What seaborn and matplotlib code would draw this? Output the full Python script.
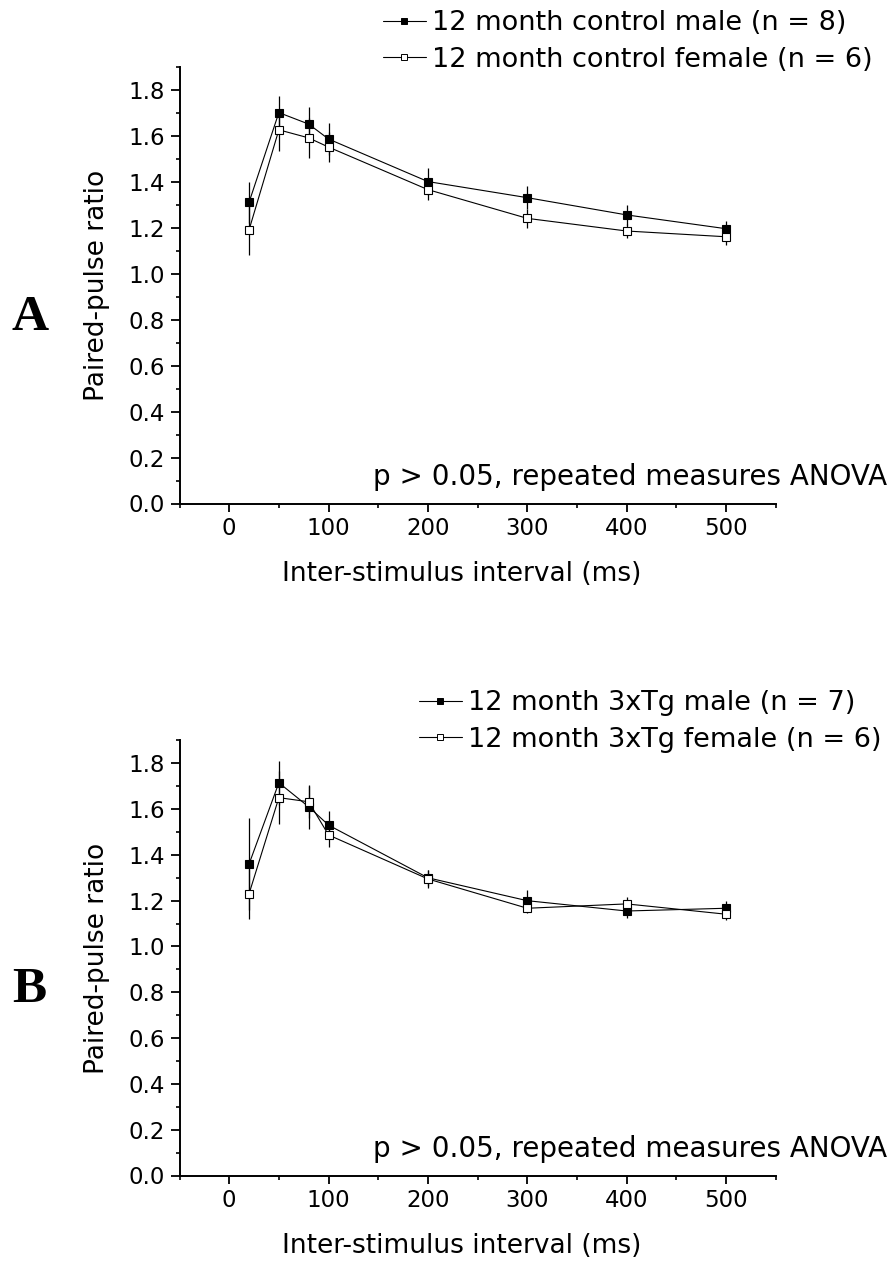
import numpy as np
import pandas as pd
import matplotlib
matplotlib.use("Agg")
import matplotlib.pyplot as plt
import seaborn as sns
from matplotlib.ticker import MultipleLocator, FormatStrFormatter
from matplotlib.lines import Line2D

# ---------------- data ----------------
isi = [20, 50, 80, 100, 200, 300, 400, 500]

a_male = [1.31, 1.70, 1.65, 1.585, 1.40, 1.33, 1.255, 1.195]
a_male_err = [0.09, 0.073, 0.074, 0.07, 0.06, 0.05, 0.045, 0.035]
a_female = [1.19, 1.625, 1.59, 1.55, 1.365, 1.24, 1.185, 1.16]
a_female_err = [0.11, 0.09, 0.086, 0.066, 0.045, 0.04, 0.03, 0.035]

b_male = [1.36, 1.715, 1.61, 1.53, 1.30, 1.20, 1.155, 1.167]
b_male_err = [0.20, 0.096, 0.095, 0.06, 0.035, 0.045, 0.03, 0.03]
b_female = [1.23, 1.65, 1.632, 1.487, 1.295, 1.167, 1.186, 1.141]
b_female_err = [0.11, 0.115, 0.07, 0.054, 0.04, 0.02, 0.03, 0.025]

a_labels = ["12 month control male (n = 8)", "12 month control female (n = 6)"]
b_labels = ["12 month 3xTg male (n = 7)", "12 month 3xTg female (n = 6)"]
panel_letters = ["A", "B"]
stat_text = "p > 0.05, repeated measures ANOVA"
xlabel = "Inter-stimulus interval (ms)"
ylabel = "Paired-pulse ratio"

# ---------------- style ----------------
sns.set_theme(style="ticks")
plt.rcParams["font.family"] = ["DejaVu Sans"]
plt.rcParams.update({
    "axes.linewidth": 1.4,
    "xtick.major.width": 1.3, "ytick.major.width": 1.3,
    "xtick.minor.width": 1.2, "ytick.minor.width": 1.2,
    "xtick.major.size": 5.8, "ytick.major.size": 6.2,
    "xtick.minor.size": 3.2, "ytick.minor.size": 3.2,
    "xtick.direction": "out", "ytick.direction": "out",
    "xtick.color": "black", "ytick.color": "black",
    "xtick.labelcolor": "black", "ytick.labelcolor": "black",
    "axes.edgecolor": "black",
    "text.color": "black",
    "axes.labelcolor": "black",
})

W, H = 893, 1266
fig = plt.figure(figsize=(W / 100, H / 100), dpi=100)

def fx(px):
    return px / W

def fy(py):
    return 1 - py / H

axA = fig.add_axes([fx(179.5), fy(503.5), fx(775.7) - fx(179.5), fy(66.6) - fy(503.5)])
axB = fig.add_axes([fx(179.5), fy(1175.5), fx(775.7) - fx(179.5), fy(740.4) - fy(1175.5)])


def draw(ax, male, male_err, female, female_err, labels, legend_xy, stat_y, letter, letter_y):
    df = pd.DataFrame({
        "isi": isi + isi,
        "ppr": male + female,
        "group": [labels[0]] * len(isi) + [labels[1]] * len(isi),
    })
    ax.errorbar(isi, male, yerr=male_err, fmt="none", ecolor="black",
                elinewidth=0.9, capsize=0, zorder=2)
    ax.errorbar(isi, female, yerr=female_err, fmt="none", ecolor="black",
                elinewidth=0.9, capsize=0, zorder=2)
    sns.lineplot(data=df[df["group"] == labels[0]], x="isi", y="ppr", ax=ax,
                 color="black", marker="s", markersize=6.2,
                 markerfacecolor="black", markeredgecolor="black",
                 markeredgewidth=0.8, linewidth=0.8, errorbar=None, zorder=3)
    sns.lineplot(data=df[df["group"] == labels[1]], x="isi", y="ppr", ax=ax,
                 color="black", marker="s", markersize=6.2,
                 markerfacecolor="white", markeredgecolor="black",
                 markeredgewidth=0.8, linewidth=0.8, errorbar=None, zorder=4)

    ax.set_xlim(-50, 550)
    ax.set_ylim(0, 1.9)
    ax.xaxis.set_major_locator(MultipleLocator(100))
    ax.xaxis.set_minor_locator(MultipleLocator(50))
    ax.yaxis.set_major_locator(MultipleLocator(0.2))
    ax.yaxis.set_minor_locator(MultipleLocator(0.1))
    ax.yaxis.set_major_formatter(FormatStrFormatter("%.1f"))
    ax.tick_params(axis="both", which="major", labelsize=16.5, pad=4)
    sns.despine(ax=ax)

    ax.set_xlabel(xlabel, fontsize=19)
    ax.set_ylabel(ylabel, fontsize=19)
    ax.xaxis.set_label_coords((462 - 179.5) / 596.2, -0.162)
    ax.xaxis.label.set_verticalalignment("center")
    ax.yaxis.set_label_coords(-0.138, 0.5)
    ax.yaxis.label.set_verticalalignment("center")

    handles = [
        Line2D([], [], color="black", lw=0.8, marker="s", markersize=4.6,
               markerfacecolor="black", markeredgecolor="black", markeredgewidth=0.7),
        Line2D([], [], color="black", lw=0.8, marker="s", markersize=4.6,
               markerfacecolor="white", markeredgecolor="black", markeredgewidth=0.7),
    ]
    ax.legend(handles, labels, loc="upper left",
              bbox_to_anchor=(fx(legend_xy[0]), fy(legend_xy[1])),
              bbox_transform=fig.transFigure, frameon=False, borderpad=0,
              borderaxespad=0, handlelength=1.6, handletextpad=0.22,
              labelspacing=0.4, fontsize=19.5)

    fig.text(fx(886.7), fy(stat_y), stat_text, ha="right", va="baseline", fontsize=20)
    fig.text(fx(29.7), fy(letter_y), letter, ha="center", va="center",
             fontsize=37, fontweight="bold", family="Liberation Serif")


draw(axA, a_male, a_male_err, a_female, a_female_err, a_labels,
     (382.5, 10), 485, panel_letters[0], 318)
draw(axB, b_male, b_male_err, b_female, b_female_err, b_labels,
     (418.5, 690), 1157, panel_letters[1], 990)

fig.savefig("out.png", dpi=100)
